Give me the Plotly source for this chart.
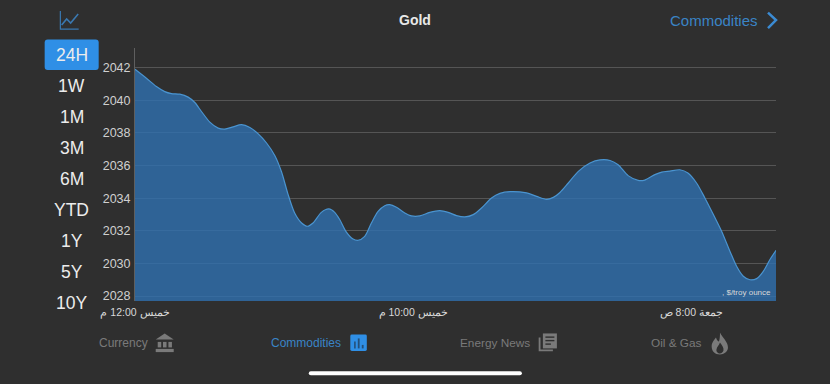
import re
import plotly.graph_objects as go

hours = [0, .41, .77, 1.07, 1.31, 1.61, 1.91, 2.15, 2.39, 2.69, 2.99, 3.23, 3.53, 3.83, 4.13, 4.43, 4.73, 5.03,
         5.27, 5.50, 5.74, 5.99, 6.20, 6.40, 6.70, 6.97, 7.18, 7.36, 7.60, 7.84, 8.02, 8.26, 8.50, 8.74, 8.98,
         9.16, 9.40, 9.70, 9.94, 10.24, 10.60, 10.96, 11.26, 11.56, 11.86, 12.16, 12.46, 12.82, 13.12, 13.48,
         14.08, 14.44, 14.80, 15.04, 15.28, 15.58, 15.94, 16.36, 16.72, 17.08, 17.37, 17.73, 18.09, 18.33, 18.69,
         18.94, 19.23, 19.59, 19.88, 20.19, 20.49, 20.79, 21.09, 21.39, 21.63, 21.87, 22.11, 22.35, 22.59, 22.83, 23.05]
prices = [2041.90, 2041.35, 2040.84, 2040.53, 2040.41, 2040.37, 2040.19, 2039.86, 2039.31, 2038.66, 2038.29, 2038.23,
          2038.37, 2038.50, 2038.33, 2037.94, 2037.38, 2036.60, 2035.60, 2034.25, 2033.09, 2032.48, 2032.28, 2032.48,
          2033.13, 2033.34, 2033.13, 2032.69, 2031.92, 2031.50, 2031.42, 2031.66, 2032.48, 2033.19, 2033.54, 2033.60,
          2033.44, 2033.09, 2032.91, 2032.91, 2033.13, 2033.24, 2033.13, 2032.93, 2032.85, 2032.99, 2033.40, 2034.01,
          2034.29, 2034.40, 2034.32, 2034.11, 2033.93, 2034.05, 2034.35, 2034.93, 2035.64, 2036.15, 2036.34, 2036.31,
          2036.05, 2035.38, 2035.09, 2035.11, 2035.44, 2035.60, 2035.66, 2035.74, 2035.54, 2034.93, 2034.01, 2033.01,
          2031.97, 2030.75, 2029.83, 2029.22, 2029.00, 2029.07, 2029.52, 2030.24, 2030.81]
y_ticks = [2028, 2030, 2032, 2034, 2036, 2038, 2040, 2042]
x_tick_vals = [0, 10, 20]
x_tick_text = ["خميس 12:00 م", "خميس 10:00 م", "جمعة 8:00 ص"]
ranges = ["24H", "1W", "1M", "3M", "6M", "YTD", "1Y", "5Y", "10Y"]
tabs = ["Currency", "Commodities", "Energy News", "Oil & Gas"]

W, H = 830, 384
L, R, T, B = 135.3, 776, 48, 301.5
FONT = "Liberation Sans"
BG = "#2f2f2f"
BLUE = "#3a84c6"
BTN = "#2f8fe6"
GREY = "#7a7a7a"


def px(x):
    return (x - L) / (R - L)


def py(y):
    return (B - y) / (B - T)


def path(d):
    return re.sub(r"(-?[\d.]+),(-?[\d.]+)",
                  lambda m: f"{px(float(m.group(1))):.5f},{py(float(m.group(2))):.5f}", d)


shapes, annos = [], []


def shape(d, fill=None, line=None, lw=1):
    shapes.append(dict(type="path", path=path(d), xref="paper", yref="paper",
                       fillcolor=fill if fill else "rgba(0,0,0,0)",
                       line=dict(color=line if line else "rgba(0,0,0,0)", width=lw if line else 0)))


def text(x, y, s, size, color, anchor="center", bold=False):
    annos.append(dict(x=px(x), y=py(y), xref="paper", yref="paper", text=f"<b>{s}</b>" if bold else s,
                      showarrow=False, xanchor=anchor, yanchor="middle", borderpad=0,
                      font=dict(family=FONT, size=size, color=color)))


# range selector
shape("M48,39.5 L96,39.5 Q99,39.5 99,42.5 L99,67 Q99,70 96,70 L48,70 Q45,70 45,67 L45,42.5 Q45,39.5 48,39.5 Z", fill=BTN)
for label, yy in zip(ranges, [55, 86.5, 117.5, 148.5, 179.5, 210.5, 241.5, 272.5, 304]):
    text(72, yy, label, 17.5, "#ececec")

# header
text(415, 20, "Gold", 14, "#e8e8e8", bold=True)
text(759, 20, "Commodities", 15, BLUE, anchor="right")
shape("M768,12.5 L776,20 L768,28", line="#3b8bd3", lw=2.5)
shape("M60.7,11 L60.7,29 L79,29", line="#3a78b0", lw=1.2)
shape("M62,25 L67,19 L71,23 L78.5,14", line="#3a78b0", lw=1.6)

# unit label
text(772, 293, ", $/troy ounce", 8, "#d8d8d8", anchor="right")

# bottom tabs
text(149, 343.5, tabs[0], 12, GREY, anchor="right")
text(342, 343.5, tabs[1], 12, BLUE, anchor="right")
text(531, 343.5, tabs[2], 11.8, GREY, anchor="right")
text(703, 343.5, tabs[3], 11.8, GREY, anchor="right")

# bank icon
shape("M156,340 L165,334 L174,340 Z", fill=GREY)
for a, b in [(158, 161.5), (163.3, 166.8), (168.7, 172.2)]:
    shape(f"M{a},342.5 L{b},342.5 L{b},348 L{a},348 Z", fill=GREY)
shape("M156,349.5 L174,349.5 L174,352.7 L156,352.7 Z", fill=GREY)
# bar icon
shape("M352,335 L365.5,335 Q367,335 367,336.5 L367,350 Q367,351.5 365.5,351.5 L352,351.5 Q350.5,351.5 350.5,350 "
      "L350.5,336.5 Q350.5,335 352,335 Z", fill=BTN)
for a, b, t in [(354.3, 355.9, 342), (358, 359.8, 339), (362, 363.8, 345.5)]:
    shape(f"M{a},{t} L{b},{t} L{b},349 L{a},349 Z", fill="#24507a")
# news icon
shape("M543,334 L557,334 L557,349 L543,349 Z", fill=GREY)
for a, b, t in [(545.5, 554.5, 337), (545.5, 554.5, 340.5), (545.5, 551, 344)]:
    shape(f"M{a},{t} L{b},{t} L{b},{t + 1.4} L{a},{t + 1.4} Z", fill=BG)
shape("M539.7,338 L539.7,351 L553,351", line=GREY, lw=1.8)
# flame icon
shape("M720,333 C722,338 728,342 728,348 C728,352 724,355 720,355 C715,355 711.7,352 711.7,347 "
      "C711.7,343 714,341 716,338 C717,341 718,342 719,342 C720,339 720,336 720,333 Z", fill=GREY)
shape("M720,343 C722,346 724,348 723.5,351 C723,353 721,354 720,354 C718,354 716,352 716.5,350 "
      "C717,347 719,346 720,343 Z", fill=BG)
# home indicator
shape("M311,372 L520,372 Q522,372 522,374 Q522,376 520,376 L311,376 Q309,376 309,374 Q309,372 311,372 Z", fill="#ffffff")

fig = go.Figure(go.Scatter(
    x=hours, y=prices, mode="lines",
    line=dict(color="#4a94d0", width=1.2, shape="spline", smoothing=0.8),
    fill="tozeroy", fillcolor="rgba(47,113,176,0.8)", hoverinfo="skip",
))
fig.update_layout(
    width=W, height=H, autosize=False,
    margin=dict(l=L, r=W - R, t=T, b=H - B),
    paper_bgcolor=BG, plot_bgcolor=BG, showlegend=False,
    shapes=shapes, annotations=annos,
    font=dict(family=FONT),
)
fig.update_xaxes(range=[0, (R - L) / 27.8], tickmode="array", tickvals=x_tick_vals, ticktext=x_tick_text,
                 showgrid=False, zeroline=False, showline=False, ticks="", ticklabelstandoff=3,
                 tickfont=dict(family=FONT, size=10.5, color="#d8d8d8"))
fig.update_yaxes(range=[2027.70, 2043.2], tickmode="array", tickvals=y_ticks,
                 showgrid=True, gridcolor="#555555", gridwidth=1, zeroline=False,
                 showline=True, linecolor="#5f5f5f", linewidth=1, ticks="", ticklabelstandoff=1,
                 tickfont=dict(family=FONT, size=12.5, color="#d0d0d0"))

fig.write_html("out.html", config=dict(displayModeBar=False),
               post_script="document.body.style.margin='0';document.body.style.overflow='hidden';")
